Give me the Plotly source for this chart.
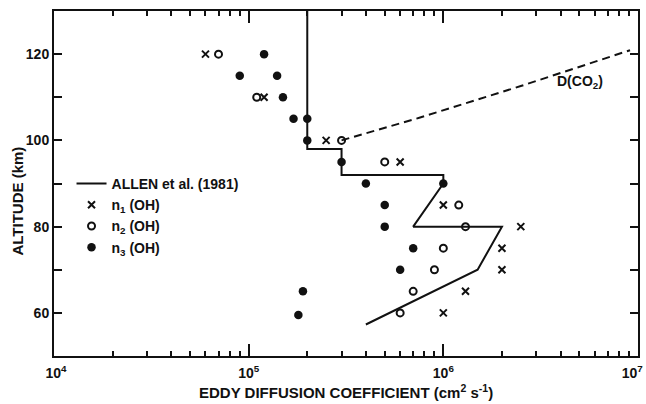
import plotly.graph_objects as go

# ---- data ----
allen_x = [2e5, 2e5, 3e5, 3e5, 1e6, 1e6, 7e5, 2e6, 1.5e6, 4e5]
allen_y = [130, 98, 98, 92, 92, 90, 80, 80, 70, 57.3]

dco2_x = [3e5, 7.6e5, 2.5e6, 9.1e6]
dco2_y = [100, 105.3, 112.6, 120.9]

n1_x = [6e4, 1.2e5, 2.5e5, 6e5, 1e6, 2.5e6, 2e6, 2e6, 1.3e6, 1e6]
n1_y = [120, 110, 100, 95, 85, 80, 75, 70, 65, 60]

n2_x = [7e4, 1.1e5, 3e5, 5e5, 1.2e6, 1.3e6, 1e6, 9e5, 7e5, 6e5]
n2_y = [120, 110, 100, 95, 85, 80, 75, 70, 65, 60]

n3_x = [1.2e5, 9e4, 1.4e5, 1.5e5, 1.7e5, 2e5, 2e5, 3e5, 4e5, 1e6, 5e5, 5e5, 7e5, 6e5, 1.9e5, 1.8e5]
n3_y = [120, 115, 115, 110, 105, 105, 100, 95, 90, 90, 85, 80, 75, 70, 65, 59.5]

NB = "\u00a0"
x_tickvals = [1e4, 1e5, 1e6, 1e7]
x_ticktext = [NB + "10<sup>4</sup>", "10<sup>5</sup>", "10<sup>6</sup>",
              "10<sup>7</sup>" + NB * 3]
x_minor = [m * d for d in (1e4, 1e5, 1e6) for m in range(2, 10)]
y_tickvals = [60, 70, 80, 90, 100, 110, 120]
y_ticktext = ["60", "", "80", "", "100", "", "120"]

FONT = "Liberation Sans"
BLACK = "#111111"
F = dict(family=FONT, size=14, color=BLACK, weight="bold")
FT = dict(family=FONT, size=15, color=BLACK, weight="bold")

fig = go.Figure()
fig.add_trace(go.Scatter(x=dco2_x, y=dco2_y, mode="lines",
                         line=dict(color=BLACK, width=2, dash="8px,5px"),
                         showlegend=False, hoverinfo="skip"))
fig.add_trace(go.Scatter(x=allen_x, y=allen_y, mode="lines",
                         line=dict(color=BLACK, width=2),
                         name="ALLEN et al. (1981)"))
fig.add_trace(go.Scatter(x=n1_x, y=n1_y, mode="markers",
                         marker=dict(symbol="x-thin", size=7, color=BLACK,
                                     line=dict(color=BLACK, width=2)),
                         name="n<sub>1</sub> (OH)"))
fig.add_trace(go.Scatter(x=n2_x, y=n2_y, mode="markers",
                         marker=dict(symbol="circle-open", size=7, color=BLACK,
                                     line=dict(color=BLACK, width=2)),
                         name="n<sub>2</sub> (OH)"))
fig.add_trace(go.Scatter(x=n3_x, y=n3_y, mode="markers",
                         marker=dict(symbol="circle", size=8.5, color=BLACK),
                         name="n<sub>3</sub> (OH)"))

fig.add_annotation(x=6.70, y=113.6, xref="x", yref="y", text="D(CO<sub>2</sub>)",
                   showarrow=False, font=F)
fig.add_annotation(x=0.5, y=-0.102, xref="paper", yref="paper",
                   text="EDDY DIFFUSION COEFFICIENT (cm<sup>2</sup> s<sup>-1</sup>)",
                   showarrow=False, yanchor="middle", font=FT)
fig.add_annotation(x=-0.062, y=0.45, xref="paper", yref="paper",
                   text="ALTITUDE (km)", textangle=-90, showarrow=False,
                   xanchor="center", yanchor="middle", font=FT)

axis_common = dict(showline=True, linecolor=BLACK, linewidth=2, mirror="allticks",
                   ticks="inside", tickcolor=BLACK, tickwidth=1.5, showgrid=False,
                   zeroline=False, tickfont=F, automargin=False)

fig.update_xaxes(type="log", range=[4, 7], tickvals=x_tickvals, ticktext=x_ticktext,
                 ticklen=12, ticklabelstandoff=3, ticklabeloverflow="allow",
                 minor=dict(ticks="inside", ticklen=5, tickcolor=BLACK, tickwidth=1.5,
                            showgrid=False, tickvals=x_minor),
                 **axis_common)
fig.update_yaxes(range=[50, 130], tickvals=y_tickvals, ticktext=y_ticktext,
                 ticklen=8, **axis_common)

fig.update_layout(
    width=646, height=404,
    margin=dict(l=54, r=8, t=11, b=48),
    paper_bgcolor="white", plot_bgcolor="white",
    font=F,
    legend=dict(x=0.03, y=0.545, xanchor="left", yanchor="top",
                bgcolor="rgba(0,0,0,0)", borderwidth=0,
                font=F, tracegroupgap=0),
)

fig.write_html("out.html")
